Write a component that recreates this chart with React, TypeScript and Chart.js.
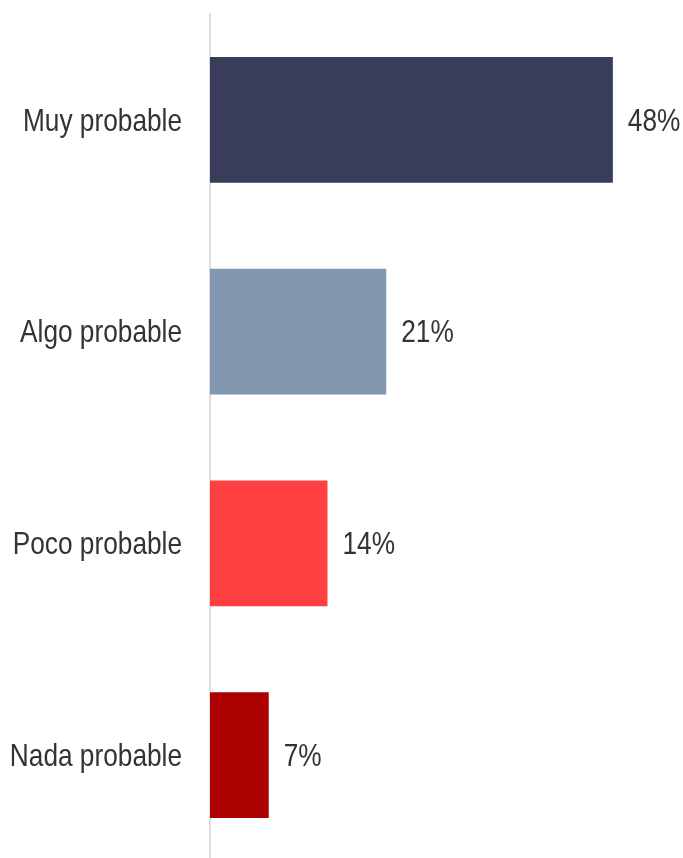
import React, { useEffect, useRef } from "react";
import { Chart, registerables } from "chart.js";

Chart.register(...registerables);

const categories = ["Muy probable", "Algo probable", "Poco probable", "Nada probable"];
const values = [48, 21, 14, 7];
const barColors = ["#393c5b", "#8497b0", "#ff4040", "#ad0000"];
const FONT = "'Liberation Sans', Arial, sans-serif";
const FONT_SIZE = 32;
const SX = 0.82; // horizontal condense to mimic a narrow typeface

const narrowText = {
  id: "narrowText",
  afterDatasetsDraw(chart: any) {
    const ctx = chart.ctx;
    const meta = chart.getDatasetMeta(0);
    const yScale = chart.scales.y;
    ctx.save();
    ctx.font = `${FONT_SIZE}px ${FONT}`;
    ctx.fillStyle = "#333333";
    ctx.textBaseline = "middle";
    ctx.scale(SX, 1);
    ctx.textAlign = "right";
    categories.forEach((c, i) => {
      const y = yScale.getPixelForTick(i);
      ctx.fillText(c, (yScale.right - 28) / SX, y + 2);
    });
    ctx.textAlign = "left";
    meta.data.forEach((bar: any, i: number) => {
      ctx.fillText(`${values[i]}%`, (bar.x + 15) / SX, bar.y + 2);
    });
    ctx.restore();
  },
};

export default function App() {
  const ref = useRef<HTMLCanvasElement>(null);
  useEffect(() => {
    document.body.style.margin = "0";
    document.body.style.overflow = "hidden";
    const chart = new Chart(ref.current!, {
      type: "bar",
      data: {
        labels: categories,
        datasets: [
          {
            data: values,
            backgroundColor: barColors,
            barPercentage: 0.595,
            categoryPercentage: 1,
          },
        ],
      },
      options: {
        indexAxis: "y",
        animation: false,
        responsive: false,
        layout: { padding: { top: 14, bottom: 0, left: 0, right: 3 } },
        plugins: { legend: { display: false }, tooltip: { enabled: false } },
        scales: {
          x: { display: false, min: 0, max: 56 },
          y: {
            grid: { display: false, drawTicks: false },
            border: { display: true, color: "#dddddd", width: 2 },
            ticks: { display: false },
            afterFit: (scale: any) => {
              scale.width = 210;
              scale.paddingTop = 0;
              scale.paddingBottom = 0;
            },
          },
        },
      },
      plugins: [narrowText],
    });
    return () => chart.destroy();
  }, []);
  return (
    <div style={{ position: "fixed", left: 0, top: 0, width: 683, height: 858, overflow: "hidden", background: "#fff" }}>
      <canvas ref={ref} width={683} height={861} style={{ display: "block" }} />
    </div>
  );
}
